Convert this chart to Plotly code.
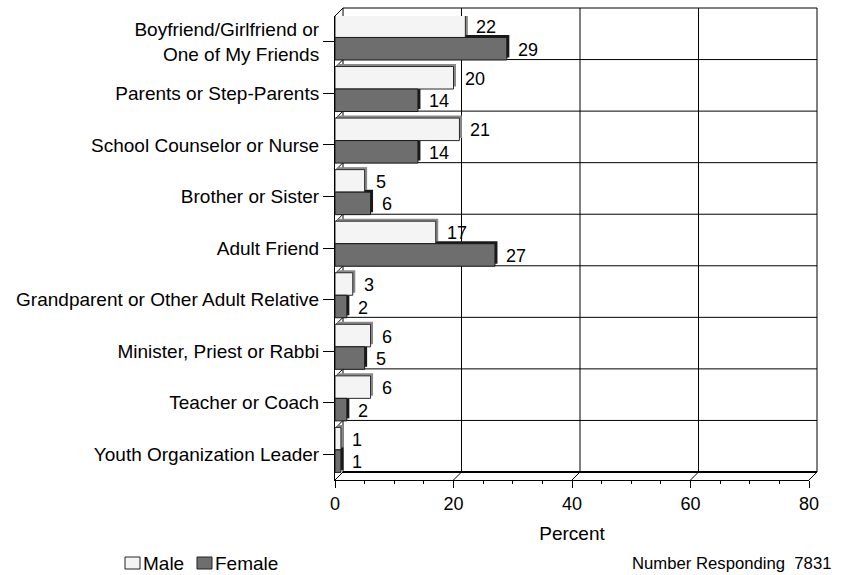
import plotly.graph_objects as go

# Survey data: who students would talk to, by sex (percent)
categories = [
    "Boyfriend/Girlfriend or<br>One of My Friends",
    "Parents or Step-Parents",
    "School Counselor or Nurse",
    "Brother or Sister",
    "Adult Friend",
    "Grandparent or Other Adult Relative",
    "Minister, Priest or Rabbi",
    "Teacher or Coach",
    "Youth Organization Leader",
]
male = [22, 20, 21, 5, 17, 3, 6, 6, 1]
female = [29, 14, 14, 6, 27, 2, 5, 2, 1]
x_ticks = [0, 20, 40, 60, 80]
respondents = 7831

FONT = "Liberation Sans, Arial, sans-serif"
W, H = 845, 575
L, R, T, B = 335, 809, 16, 480          # front plane of the plot box, pixels
XMAX = 80
DEPTH = 8                                # 3-D depth of the box, pixels
n = len(categories)
pitch = (B - T) / n

def px_x(v):
    return L + v * (R - L) / XMAX

def paper_x(px):
    return (px - L) / (R - L)

def paper_y(py):
    return (B - py) / (B - T)

idx = list(range(n))
bar_w = 22.5 / pitch
shift = 4.3 / pitch
y_male = [i - shift - bar_w / 2 for i in idx]
y_female = [i - shift + bar_w / 2 for i in idx]

sx = 2.5 * XMAX / (R - L)   # side depth of each bar, in axis units
sy = 2.5 / pitch

fig = go.Figure()

# bar side faces (drawn first, slightly up and to the right)
fig.add_trace(go.Bar(y=[v - sy for v in y_male], x=male, base=[sx] * n, orientation="h",
                     width=bar_w, marker=dict(color="#8a8a8a", line=dict(width=0)),
                     hoverinfo="skip", showlegend=False, cliponaxis=False))
fig.add_trace(go.Bar(y=[v - sy for v in y_female], x=female, base=[sx] * n, orientation="h",
                     width=bar_w, marker=dict(color="#1a1a1a", line=dict(width=0)),
                     hoverinfo="skip", showlegend=False, cliponaxis=False))
# bar front faces
fig.add_trace(go.Bar(y=y_male, x=male, orientation="h", width=bar_w, name="Male",
                     marker=dict(color="#f4f4f4", line=dict(color="#2a2a2a", width=1)),
                     showlegend=False, cliponaxis=False))
fig.add_trace(go.Bar(y=y_female, x=female, orientation="h", width=bar_w, name="Female",
                     marker=dict(color="#6e6e6e", line=dict(color="#1a1a1a", width=1)),
                     showlegend=False, cliponaxis=False))

annotations = []
for yv, v in zip(y_male + y_female, male + female):
    annotations.append(dict(x=v, y=yv, xref="x", yref="y", text=str(v), showarrow=False,
                            xanchor="left", yanchor="middle", xshift=9, yshift=-1,
                            font=dict(family=FONT, size=18, color="#000")))

# box outline: back wall, left wall, floor
shapes = []
def seg(x0, y0, x1, y1, width=1):
    shapes.append(dict(type="line", xref="paper", yref="paper", layer="below",
                       x0=paper_x(x0), y0=paper_y(y0), x1=paper_x(x1), y1=paper_y(y1),
                       line=dict(color="#000", width=width)))

bx0, bx1 = L + DEPTH, R + DEPTH
by0, by1 = T - DEPTH, B - DEPTH
seg(bx0, by0, bx1, by0)            # back top
seg(bx0, by0, bx0, by1)            # back left
seg(bx1, by0, bx1, by1)            # back right
seg(bx0, by1, bx1, by1, width=2)   # back floor edge
seg(L, T, bx0, by0)                # top-left diagonal
for t in x_ticks:
    fx = px_x(t)
    seg(fx, B, fx + DEPTH, by1)    # floor lines
    if 0 < t < XMAX:
        seg(fx + DEPTH, by0, fx + DEPTH, by1)   # back wall gridlines
for k in range(1, n):
    fy = T + k * pitch
    seg(L, fy, bx0, fy - DEPTH)    # left wall lines
    seg(bx0, fy - DEPTH, bx1, fy - DEPTH)       # back wall gridlines

# legend
def box(x0, fill):
    shapes.append(dict(type="rect", xref="paper", yref="paper",
                       x0=paper_x(x0), x1=paper_x(x0 + 15), y0=paper_y(569), y1=paper_y(557),
                       fillcolor=fill, line=dict(color="#222", width=1)))
box(125, "#f4f4f4")
box(197, "#6e6e6e")
for xpos, label in [(141, "Male"), (213, "Female")]:
    annotations.append(dict(x=paper_x(xpos), y=paper_y(563), xref="paper", yref="paper",
                            text=label, showarrow=False, xanchor="left", yanchor="middle",
                            font=dict(family=FONT, size=19, color="#000")))
annotations.append(dict(x=paper_x(833), y=paper_y(563), xref="paper", yref="paper",
                        text=f"Number Responding&nbsp;&nbsp;{respondents}", showarrow=False,
                        xanchor="right", yanchor="middle",
                        font=dict(family=FONT, size=16.7, color="#000")))

fig.update_layout(
    width=W, height=H,
    margin=dict(l=L, r=W - R, t=T, b=H - B),
    paper_bgcolor="white", plot_bgcolor="white",
    barmode="overlay",
    font=dict(family=FONT, color="#000"),
    shapes=shapes, annotations=annotations,
    xaxis=dict(range=[0, XMAX], tickvals=x_ticks, showgrid=False, zeroline=False,
               showline=True, linecolor="#000", linewidth=1,
               ticks="outside", ticklen=7, tickcolor="#000",
               minor=dict(dtick=5, ticks="outside", ticklen=3, tickcolor="#000", showgrid=False),
               tickfont=dict(family=FONT, size=18),
               title=dict(text="Percent", font=dict(family=FONT, size=19), standoff=14)),
    yaxis=dict(range=[n - 0.5, -0.5], tickvals=idx, ticktext=categories,
               showgrid=False, zeroline=False, showline=True, linecolor="#000", linewidth=1,
               ticks="outside", ticklen=11, tickcolor="#000",
               tickfont=dict(family=FONT, size=19)),
)

fig.write_html("out.html")
